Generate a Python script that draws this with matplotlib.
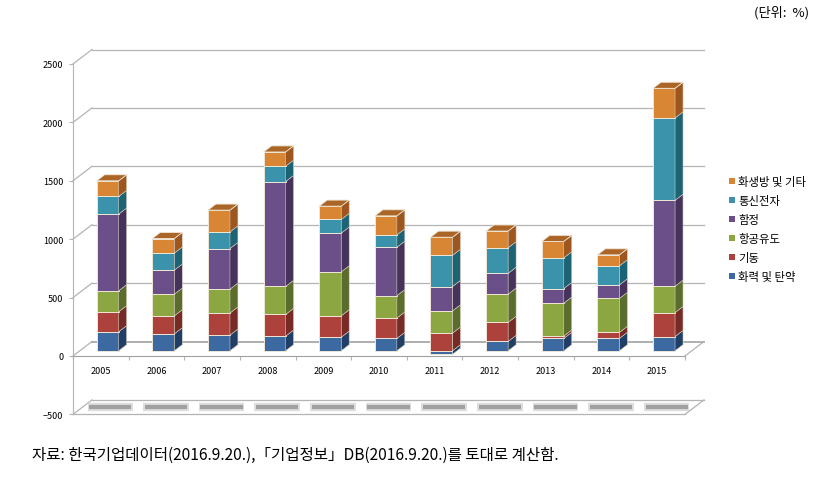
import matplotlib.pyplot as plt
from matplotlib.patches import Polygon, Patch
import numpy as np

plt.rcParams['font.family'] = ['Noto Sans CJK KR', 'DejaVu Sans']

# data (%)
years = ['2005', '2006', '2007', '2008', '2009', '2010', '2011', '2012', '2013', '2014', '2015']
names = ['화력 및 탄약', '기동', '항공유도', '함정', '통신전자', '화생방 및 기타']
firepower = [163, 145, 134, 125, 116, 106, -30, 80, 106, 106, 122]
mobility = [171, 154, 189, 186, 183, 174, 151, 163, 20, 51, 205]
aero = [180, 186, 205, 240, 377, 192, 191, 242, 282, 291, 226]
naval = [656, 205, 347, 898, 331, 414, 208, 178, 125, 116, 735]
comm = [151, 146, 143, 131, 117, 106, 267, 219, 263, 163, 705]
cbr = [134, 125, 186, 122, 114, 163, 155, 143, 140, 94, 254]
series = [firepower, mobility, aero, naval, comm, cbr]

front_col = ['#3d69a1', '#ad413b', '#8ca642', '#6b4f88', '#3a93aa', '#d98634']
side_col = ['#213f66', '#772b27', '#5b6d2c', '#45335b', '#1d6376', '#9e561f']
top_col = '#ab6527'
grid_col = '#b4b4b4'

W, H = 826, 481
fig = plt.figure(figsize=(W / 100, H / 100), dpi=100)

# front plane: category 0..11 -> px 73..685, value 0..2500 -> px 357..65
n = len(years)
px0, px1, py0, py1 = 73, 685, 357, 65
ax_l, ax_r, ax_t, ax_b = 40, 720, 40, 430
sx = (px1 - px0) / n
sy = (py0 - py1) / 2500
ax = fig.add_axes([ax_l / W, 1 - ax_b / H, (ax_r - ax_l) / W, (ax_b - ax_t) / H])
ax.set_xlim((ax_l - px0) / sx, (ax_r - px0) / sx)
ax.set_ylim((py0 - ax_b) / sy, (py0 - ax_t) / sy)

DX = 19 / sx      # depth of the 3d box in data units
DY = 14.5 / sy

# walls and gridlines
for v in range(-500, 3000, 500):
    ax.plot([0, DX], [v, v + DY], color=grid_col, lw=0.9, zorder=1)
for v in range(500, 3000, 500):
    ax.plot([DX, n + DX], [v + DY, v + DY], color=grid_col, lw=0.9, zorder=1)
# floor at 0 and lower plate at -500
ax.plot([DX, n + DX], [DY, DY], color='#a8a8a8', lw=1.3, zorder=1)
ax.plot([n, n + DX], [0, DY], color=grid_col, lw=0.9, zorder=1)
ax.plot([0, n], [-500, -500], color=grid_col, lw=0.9, zorder=1)
ax.plot([DX, n + DX], [-500 + DY, -500 + DY], color=grid_col, lw=0.9, zorder=1)
ax.plot([n, n + DX], [-500, -500 + DY], color=grid_col, lw=0.9, zorder=1)
for i in range(n):
    cx = i + 0.5 + 0.5 * DX
    cy = -500 + 0.5 * DY
    ax.plot([cx - 0.41, cx + 0.41], [cy, cy], color='#cfcfcf', lw=6, alpha=0.7,
            solid_capstyle='butt', zorder=2)
    ax.plot([cx - 0.38, cx + 0.38], [cy, cy], color='#a0a0a0', lw=3,
            solid_capstyle='butt', zorder=2)

# stacked 3d-looking bars
bw = 0.396
f = 0.36     # front face depth position
d = 0.42     # bar depth
x = np.arange(n)
pos = np.zeros(n)
neg = np.zeros(n)
for j, vals in enumerate(series):
    vals = np.array(vals, dtype=float)
    bottoms = np.where(vals >= 0, pos, neg + vals)
    xc = x + 0.5 + f * DX
    ax.bar(xc, np.abs(vals), bottom=bottoms + f * DY, width=bw, color=front_col[j],
           edgecolor='#efe6d6', linewidth=0.7, zorder=3)
    for i in range(n):
        xr = xc[i] + bw / 2
        b = bottoms[i] + f * DY
        t = b + abs(vals[i])
        ax.add_patch(Polygon([(xr, b), (xr + d * DX, b + d * DY), (xr + d * DX, t + d * DY), (xr, t)],
                             closed=True, facecolor=side_col[j], edgecolor='#d8cfc0',
                             linewidth=0.4, zorder=3))
    pos = np.where(vals >= 0, pos + vals, pos)
    neg = np.where(vals < 0, neg + vals, neg)
tops = pos
for i in range(n):
    xl = i + 0.5 + f * DX - bw / 2
    xr = xl + bw
    t = tops[i] + f * DY
    ax.add_patch(Polygon([(xl, t), (xr, t), (xr + d * DX, t + d * DY), (xl + d * DX, t + d * DY)],
                         closed=True, facecolor=top_col, edgecolor='#efe6d6',
                         linewidth=0.6, zorder=4))

# axes
for s in ['top', 'right']:
    ax.spines[s].set_visible(False)
ax.spines['left'].set_position(('data', 0))
ax.spines['left'].set_bounds(-500, 2500)
ax.spines['bottom'].set_position(('data', 0))
ax.spines['bottom'].set_bounds(0, n)
ax.spines['left'].set_color(grid_col)
ax.spines['bottom'].set_color('#a0a0a0')
ax.set_yticks(range(-500, 3000, 500))
ax.tick_params(axis='y', length=3, width=0.8, color=grid_col, pad=4, labelsize=6.5)
ax.set_xticks(np.arange(n + 1))
ax.set_xticklabels([])
ax.tick_params(axis='x', which='major', length=3, width=0.8, color=grid_col)
ax.set_xticks(x + 0.5, minor=True)
ax.set_xticklabels(years, minor=True)
ax.tick_params(axis='x', which='minor', length=0, pad=7, labelsize=6.5)

handles = [Patch(facecolor=front_col[j]) for j in range(len(names) - 1, -1, -1)]
labels = names[::-1]
ax.legend(handles, labels, loc='upper left', bbox_to_anchor=(729 / W, 1 - 177 / H),
          bbox_transform=fig.transFigure, frameon=False, fontsize=8.2,
          handlelength=0.5, handleheight=0.5, handletextpad=0.3,
          labelspacing=0.7, borderpad=0, borderaxespad=0)

fig.text(809 / W, 1 - 13 / H, '(단위:  %)', ha='right', va='center', fontsize=9.5)
fig.text(32 / W, 1 - 455 / H, '자료: 한국기업데이터(2016.9.20.),「기업정보」DB(2016.9.20.)를 토대로 계산함.',
         ha='left', va='center', fontsize=11.2)

fig.savefig('out.png', dpi=100)
